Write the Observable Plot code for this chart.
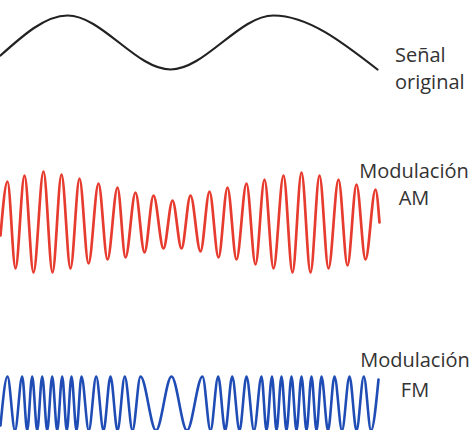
<!DOCTYPE html>
<html><head><meta charset="utf-8">
<script src="https://cdn.jsdelivr.net/npm/d3@7"></script>
<script src="https://cdn.jsdelivr.net/npm/@observablehq/plot@0.6"></script>
<style>
body{margin:0;background:#fff;}
#wrap{position:relative;width:472px;height:430px;overflow:hidden;background:#fff;font-family:"Open Sans",sans-serif;color:#333;}
.lab{position:absolute;font-size:20px;line-height:27px;white-space:nowrap;}
</style></head><body>
<div id="wrap">
  <div class="lab" style="left:395px;top:41px;">Señal<br>original</div>
  <div class="lab" style="left:354px;width:120px;text-align:center;top:157px;">Modulación<br>AM</div>
  <div class="lab" style="left:355px;width:120px;text-align:center;top:345px;line-height:30px;">Modulación<br>FM</div>
</div>
<script>
// Original signal: time positions of extrema and amplitudes
const originalT = [0, 67, 170, 273, 377];
const originalV = [-13, 27, -27, 27, -27];

// AM modulated carrier: extrema times and amplitudes
const amT = [0, 7, 15, 24, 33, 43, 52, 61, 70, 79, 88, 98, 107, 117, 125, 135, 144, 153, 163, 172, 181, 190, 200, 209, 218, 227, 236, 246, 255, 264, 273, 283, 292, 301, 310, 319, 328, 338, 347, 356, 365, 375, 379];
const amV = [-13, 41, -46, 47, -50, 51, -50, 48, -46, 44, -41, 39, -37, 35, -35, 30, -30, 27, -26, 22, -26, 27, -29, 31, -35, 35, -37, 39, -42, 43, -46, 47, -50, 50, -50, 47, -46, 43, -43, 38, -37, 33, 0];

// FM modulated carrier: extrema times and amplitudes
const fmT = [0, 7, 14.5, 21.7, 26.7, 31.7, 36.7, 41.7, 46.7, 51.7, 56.7, 61.7, 66.3, 71, 76, 81, 88.3, 95.7, 103, 110, 117, 124.3, 132, 140, 155.5, 171, 186.5, 202, 210, 217.7, 224.7, 231.7, 239, 246, 253.5, 261, 266, 271.5, 276, 281, 286, 291, 296, 301, 306, 311, 316, 321, 327.5, 334, 341.5, 349, 356, 363.3, 370.5, 378];
const fmV = [-22, 27, -27, 27, -27, 27, -27, 27, -27, 27, -27, 27, -27, 27, -27, 27, -27, 27, -27, 27, -27, 27, -27, 27, -27, 27, -27, 27, -27, 27, -27, 27, -27, 27, -27, 27, -27, 27, -27, 27, -27, 27, -27, 27, -27, 27, -27, 27, -27, 27, -27, 27, -27, 27, -27, 24];

const wrap = document.getElementById("wrap");

function wave(t, v, o) {
  const data = t.map((d, i) => ({t: d, v: v[i]}));
  const p = Plot.plot({
    width: 472, height: o.height,
    marginTop: o.mt, marginBottom: o.mb, marginLeft: 0, marginRight: 0,
    x: {domain: [0, 472], axis: null},
    y: {domain: [-o.amp, o.amp], axis: null},
    style: {background: "transparent", overflow: "visible"},
    marks: [
      Plot.line(data, {x: "t", y: "v", stroke: o.color, strokeWidth: o.sw, curve: "monotone-x"})
    ]
  });
  p.style.position = "absolute";
  p.style.left = "0px";
  p.style.top = o.top + "px";
  wrap.insertBefore(p, wrap.firstChild);
}

wave(originalT, originalV, {top: 0, height: 90, mt: 15, mb: 21, amp: 27, color: "#222", sw: 2.2});
wave(amT, amV, {top: 150, height: 140, mt: 21, mb: 17, amp: 51, color: "#e63b2e", sw: 2.7});
wave(fmT, fmV, {top: 350, height: 80, mt: 26, mb: 0, amp: 27, color: "#1f4db5", sw: 2.6});
</script>
</body></html>
